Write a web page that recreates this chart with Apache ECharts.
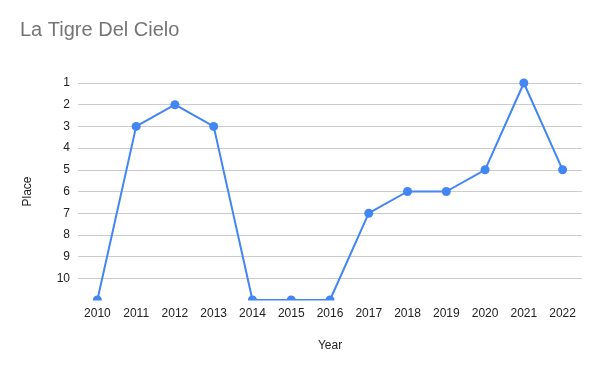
<!DOCTYPE html>
<html><head><meta charset="utf-8">
<script src="https://cdn.jsdelivr.net/npm/echarts@6/dist/echarts.min.js"></script>
<style>html,body{margin:0;padding:0;background:#fff}#c{width:600px;height:371px}</style>
</head><body><div id="c"></div>
<script>
const years = ['2010','2011','2012','2013','2014','2015','2016','2017','2018','2019','2020','2021','2022'];
const place = [11, 3, 2, 3, 11, 11, 11, 7, 6, 6, 5, 1, 5];
const yTicks = [1,2,3,4,5,6,7,8,9,10];

const FONT = 'Arial, "Liberation Sans", sans-serif';
const chart = echarts.init(document.getElementById('c'), null, {renderer:'canvas'});
const gridColors = yTicks.map(()=> '#cccccc').concat(['rgba(0,0,0,0)']);
chart.setOption({
  animation:false,
  backgroundColor:'#fff',
  title:{text:'La Tigre Del Cielo', left:20, top:20, padding:0, textStyle:{fontFamily:FONT, fontSize:20, fontWeight:'normal', color:'#757575'}},
  grid:{left:78, top:83, width:504, height:217, containLabel:false},
  graphic:[{type:'rect', z:100, shape:{x:70, y:300.5, width:520, height:6}, style:{fill:'#fff'}}],
  xAxis:{type:'category', data:years, boundaryGap:true,
    name:'Year', nameLocation:'middle', nameGap:40,
    nameTextStyle:{fontFamily:FONT, fontSize:12, color:'#222'},
    axisLine:{show:false}, axisTick:{show:false},
    axisLabel:{fontFamily:FONT, fontSize:12, color:'#222', margin:8}},
  yAxis:{type:'value', inverse:true, min:1, max:11, interval:1,
    name:'Place', nameLocation:'middle', nameGap:44, nameRotate:90,
    nameTextStyle:{fontFamily:FONT, fontSize:12, color:'#222'},
    axisLine:{show:false}, axisTick:{show:false},
    axisLabel:{fontFamily:FONT, fontSize:12, color:'#222', margin:8,
      formatter:(v)=> yTicks.includes(v) ? String(v) : ''},
    splitLine:{lineStyle:{color:gridColors, width:1}}},
  series:[{type:'line', data:place, clip:true,
    symbol:'circle', symbolSize:9,
    lineStyle:{color:'#4285F4', width:2},
    itemStyle:{color:'#4285F4'}}]
});
</script></body></html>
